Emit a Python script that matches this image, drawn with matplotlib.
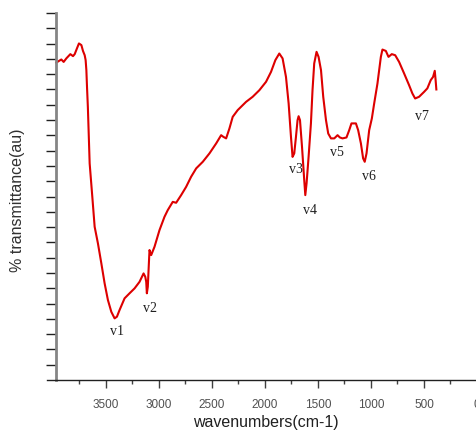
import matplotlib
matplotlib.use("Agg")
import matplotlib.pyplot as plt
import numpy as np

# ---- data ----
wavenumber = [3964, 3917, 3895, 3870, 3832, 3807, 3791, 3770, 3751, 3728, 3713, 3697,
              3688, 3681, 3675, 3667, 3660, 3650, 3625, 3603, 3572, 3540, 3509, 3478,
              3446, 3415, 3393, 3368, 3321, 3274, 3227, 3180, 3142, 3126, 3117, 3111,
              3102, 3092, 3086, 3070, 3039, 2992, 2945, 2914, 2867, 2835, 2788, 2741,
              2694, 2646, 2584, 2521, 2458, 2411, 2390, 2364, 2333, 2302, 2255, 2176,
              2114, 2051, 1988, 1941, 1900, 1863, 1832, 1800, 1775, 1753, 1738, 1722,
              1706, 1691, 1681, 1668, 1649, 1628, 1618, 1606, 1587, 1565, 1550, 1534,
              1512, 1493, 1470, 1449, 1423, 1402, 1376, 1345, 1314, 1292, 1267, 1230,
              1204, 1183, 1141, 1120, 1094, 1073, 1058, 1041, 1016, 991, 969, 938,
              906, 891, 859, 834, 803, 771, 734, 687, 640, 609, 583, 546, 499, 468,
              436, 414, 398, 390, 383]
transmittance = [20.76, 20.96, 20.80, 21.03, 21.31, 21.18, 21.31, 21.68, 22.01, 21.90, 21.52, 21.24,
                 20.92, 20.26, 19.17, 17.86, 16.34, 14.16, 11.98, 10.02, 8.93, 7.63, 6.32, 5.23,
                 4.46, 4.03, 4.14, 4.58, 5.34, 5.67, 5.99, 6.42, 6.97, 6.75, 6.42, 5.67,
                 6.10, 7.63, 8.50, 8.17, 8.71, 9.80, 10.67, 11.11, 11.65, 11.59, 12.09, 12.63,
                 13.29, 13.84, 14.27, 14.82, 15.47, 16.01, 15.90, 15.80, 16.45, 17.21, 17.65, 18.19,
                 18.52, 18.95, 19.50, 20.15, 20.92, 21.35, 21.03, 19.82, 18.08, 15.90, 14.59, 14.82,
                 15.90, 16.99, 17.25, 16.99, 15.25, 13.07, 12.09, 12.86, 14.59, 16.78, 18.95, 20.70,
                 21.46, 21.13, 20.26, 18.52, 16.99, 16.12, 15.80, 15.80, 16.01, 15.86, 15.80, 15.86,
                 16.34, 16.78, 16.78, 16.34, 15.47, 14.49, 14.27, 14.82, 16.34, 17.10, 18.08, 19.39,
                 21.13, 21.61, 21.52, 21.13, 21.31, 21.24, 20.80, 20.05, 19.28, 18.74, 18.41, 18.52, 18.84, 19.07,
                 19.61, 19.82, 20.22, 19.61, 19.00]

peak_labels = ["v1", "v2", "v3", "v4", "v5", "v6", "v7"]
peak_x = [3396, 3079, 1706, 1571, 1324, 1016, 520]
peak_y = [3.20, 4.69, 13.77, 11.11, 14.86, 13.33, 17.25]

xtick_values = [3500, 3000, 2500, 2000, 1500, 1000, 500, 0]
xtick_labels = ["3500", "3000", "2500", "2000", "1500", "1000", "500", "0"]
xminor_values = [3750, 3250, 2750, 2250, 1750, 1250, 750, 250]
ytick_values = list(range(1, 25))

# ---- figure ----
W, H = 477, 432
fig = plt.figure(figsize=(W / 100, H / 100), dpi=100)
ax = fig.add_axes([47 / W, (H - 380) / H, 1 - 47 / W, (380 - 13) / H])

ax.plot(wavenumber, transmittance, color="#dd0000", lw=1.5, solid_joinstyle="round")

ax.set_xlim(4052, 9)
ax.set_ylim(0, 24)

for s in ["top", "right"]:
    ax.spines[s].set_visible(False)
ax.spines["left"].set_position(("data", 3970))
ax.spines["left"].set_color("#858585")
ax.spines["left"].set_linewidth(2.0)
ax.spines["bottom"].set_color("#202020")
ax.spines["bottom"].set_linewidth(1.0)

ax.set_xticks(xtick_values)
ax.set_xticklabels(xtick_labels, fontfamily="Liberation Sans", fontsize=8.5, color="#505050")
ax.set_xticks(xminor_values, minor=True)
ax.tick_params(axis="x", which="major", direction="out", length=6, width=1, color="#404040", pad=8)
ax.tick_params(axis="x", which="minor", direction="out", length=3, width=1, color="#404040")

ax.set_yticks(ytick_values)
ax.set_yticklabels([])
ax.tick_params(axis="y", which="major", direction="out", length=7, width=1, color="#202020")

for lab, x, y in zip(peak_labels, peak_x, peak_y):
    ax.text(x, y, lab, fontfamily="Liberation Serif", fontsize=10, color="#202020",
            ha="center", va="center")

fig.text(18 / W, 1 - 200 / H, "% transmittance(au)", rotation=90, ha="center", va="center",
         fontfamily="Liberation Sans", fontsize=11.5, color="#303030")
fig.text(266 / W, 1 - 422 / H, "wavenumbers(cm-1)", ha="center", va="center",
         fontfamily="Liberation Sans", fontsize=11.5, color="#202020")

fig.savefig("out.png", dpi=100)
